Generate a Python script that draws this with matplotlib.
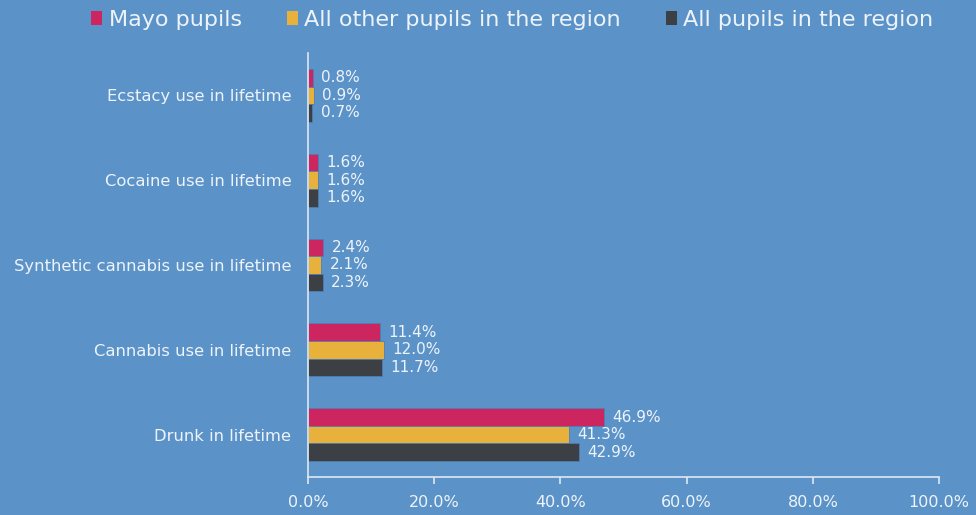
import matplotlib.pyplot as plt
import numpy as np
from matplotlib.patches import Patch

categories = [
    "Drunk in lifetime",
    "Cannabis use in lifetime",
    "Synthetic cannabis use in lifetime",
    "Cocaine use in lifetime",
    "Ecstacy use in lifetime",
]
series_names = ["Mayo pupils", "All other pupils in the region", "All pupils in the region"]
mayo = [46.9, 11.4, 2.4, 1.6, 0.8]
other = [41.3, 12.0, 2.1, 1.6, 0.9]
all_pupils = [42.9, 11.7, 2.3, 1.6, 0.7]
x_ticks = [0, 20, 40, 60, 80, 100]

BG = "#5b93c9"
TEXT = "#eef3f9"
COLORS = ["#cc2560", "#e8b13c", "#3c3f43"]

plt.rcParams["font.family"] = ["DejaVu Sans"]

fig = plt.figure(figsize=(9.76, 5.15), dpi=100)
fig.patch.set_facecolor(BG)
ax = fig.add_axes([0.3156, 0.0738, 0.6465, 0.8233])
ax.set_facecolor(BG)

y = np.arange(len(categories))
h = 0.207
offsets = [h, 0, -h]
for vals, off, col in zip([mayo, other, all_pupils], offsets, COLORS):
    bars = ax.barh(y + off, vals, height=h, color=col, edgecolor="#4d7fb3", linewidth=0.6)
    ax.bar_label(bars, labels=[f"{v:.1f}%" for v in vals], padding=6,
                 color=TEXT, fontsize=11)

ax.set_xlim(0, 100)
ax.set_ylim(-0.5, 4.5)
ax.set_yticks(y, categories)
ax.set_xticks(x_ticks, [f"{t:.1f}%" for t in x_ticks])
ax.tick_params(axis="y", length=0, pad=12, labelsize=11.8, labelcolor=TEXT)
ax.tick_params(axis="x", length=5, width=1.2, color="#dfe8f3", pad=8,
               labelsize=11.5, labelcolor=TEXT)
for side in ["top", "right"]:
    ax.spines[side].set_visible(False)
for side in ["left", "bottom"]:
    ax.spines[side].set_color("#dfe8f3")
    ax.spines[side].set_linewidth(1.2)

handles = [Patch(facecolor=c, edgecolor="none") for c in COLORS]
fig.legend(handles, series_names, loc="upper center", bbox_to_anchor=(0.525, 1.02),
           ncol=3, frameon=False, fontsize=16, labelcolor=TEXT,
           handlelength=0.5, handleheight=0.6, handletextpad=0.3,
           columnspacing=2.0)

fig.savefig("out.png", dpi=100, facecolor=fig.get_facecolor())
